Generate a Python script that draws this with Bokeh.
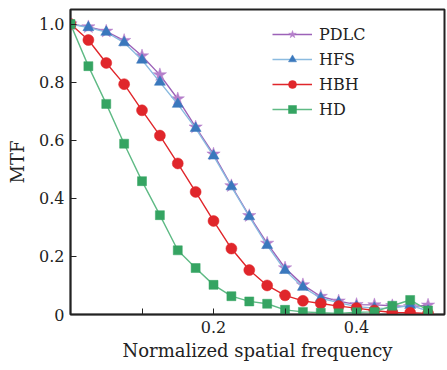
from bokeh.plotting import figure
from bokeh.models import FixedTicker, CustomJSTickFormatter, Range1d, Legend
from bokeh.embed import file_html
from bokeh.resources import INLINE

x = [i * 0.025 for i in range(21)]

pdlc = [1.0, 0.99, 0.975, 0.943, 0.89, 0.825, 0.742, 0.645, 0.552, 0.443, 0.34,
        0.245, 0.16, 0.102, 0.062, 0.046, 0.034, 0.033, 0.030, 0.027, 0.032]
hfs = [1.0, 0.988, 0.972, 0.936, 0.876, 0.80, 0.724, 0.641, 0.546, 0.44, 0.337,
       0.238, 0.152, 0.094, 0.056, 0.041, 0.027, 0.022, 0.021, 0.032, 0.012]
hbh = [1.0, 0.945, 0.866, 0.793, 0.703, 0.616, 0.52, 0.422, 0.322, 0.227, 0.153,
       0.10, 0.066, 0.047, 0.038, 0.029, 0.022, 0.014, 0.007, 0.006, 0.004]
hd = [1.0, 0.855, 0.725, 0.588, 0.459, 0.342, 0.221, 0.160, 0.102, 0.063, 0.045,
      0.037, 0.016, 0.009, 0.006, 0.004, 0.008, 0.009, 0.030, 0.050, 0.014]

names = ["PDLC", "HFS", "HBH", "HD"]
x_major = [0.2, 0.4]
x_minor = [0.1, 0.3, 0.5]
y_ticks = [0, 0.2, 0.4, 0.6, 0.8, 1.0]

FONT = "DejaVu Serif"

p = figure(width=447, height=370, output_backend="svg", toolbar_location=None,
           x_range=Range1d(0, 0.523), y_range=Range1d(0, 1.05),
           min_border_left=70, min_border_right=3, min_border_top=9, min_border_bottom=56)
p.background_fill_color = "white"
p.border_fill_color = "white"
p.outline_line_color = "#222222"
p.outline_line_width = 2
p.outline_line_alpha = 1.0
p.xgrid.visible = False
p.ygrid.visible = False

series = [
    (pdlc, "#9c62b8", "#b57fcb", "star", 14),
    (hfs, "#8bbbe0", "#3a78bd", "triangle", 11),
    (hbh, "#e0262b", "#e0262b", "circle", 11),
    (hd, "#5fba85", "#35a462", "square", 9),
]
items = []
for name, (ys, lc, mc, mk, sz) in zip(names, series):
    r1 = p.line(x, ys, line_color=lc, line_width=1.4)
    r2 = p.scatter(x, ys, marker=mk, size=sz, fill_color=mc, line_color=mc, line_width=0.5)
    items.append((name, [r1, r2]))

legend = Legend(items=items, location=(202, 195), border_line_color=None,
                background_fill_alpha=0, padding=0, margin=0, spacing=5,
                glyph_width=40, glyph_height=20, label_standoff=7,
                label_text_font=FONT, label_text_font_size="16px", label_text_color="#222222")
p.add_layout(legend)

bottom = p.below[0]
left = p.left[0]

for ax in (bottom, left):
    ax.axis_line_color = "#222222"
    ax.axis_line_width = 1.5
    ax.major_tick_in = 6
    ax.major_tick_out = 0
    ax.minor_tick_in = 6
    ax.minor_tick_out = 0
    ax.major_tick_line_color = "#222222"
    ax.minor_tick_line_color = "#222222"
    ax.major_label_text_font = FONT
    ax.major_label_text_font_size = "16px"
    ax.major_label_text_color = "#222222"
    ax.axis_label_text_font = FONT
    ax.axis_label_text_font_size = "18px"
    ax.axis_label_text_font_style = "normal"
    ax.axis_label_text_color = "#222222"

bottom.ticker = FixedTicker(ticks=x_major, minor_ticks=x_minor)
left.ticker = FixedTicker(ticks=y_ticks, minor_ticks=[])
left.formatter = CustomJSTickFormatter(code="return tick == 0 ? '0' : tick.toFixed(1);")
bottom.major_label_standoff = 6
left.major_label_standoff = 6
bottom.axis_label = "Normalized spatial frequency"
left.axis_label = "MTF"
bottom.axis_label_standoff = 4
left.axis_label_standoff = 8

open("out.html", "w").write(file_html(p, INLINE))
